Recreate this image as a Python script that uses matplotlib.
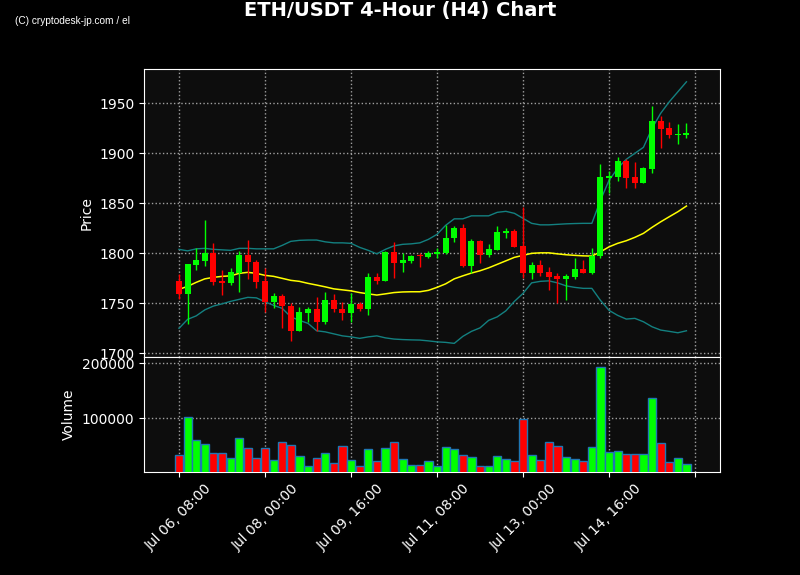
import numpy as np
import matplotlib
matplotlib.use("Agg")
import matplotlib.pyplot as plt

# ---- data ----
opens = [1772.3, 1759.7, 1788.3, 1792.3, 1800.0, 1772.3, 1770.6, 1780.6, 1798.3, 1791.0,
         1772.3, 1751.6, 1757.3, 1747.6, 1722.6, 1740.6, 1744.3, 1731.0, 1753.3, 1744.0,
         1740.0, 1749.3, 1744.6, 1776.0, 1772.6, 1801.0, 1790.6, 1792.3, 1798.0, 1796.6,
         1799.3, 1800.0, 1815.0, 1825.6, 1787.3, 1812.3, 1798.3, 1803.3, 1820.0, 1822.3,
         1807.3, 1780.6, 1788.3, 1781.0, 1777.6, 1774.3, 1776.6, 1784.3, 1780.3, 1797.6,
         1875.3, 1876.6, 1892.3, 1876.0, 1870.0, 1884.3, 1932.3, 1925.0, 1918.0, 1918.6]
highs = [1779.0, 1789.0, 1805.0, 1833.6, 1810.0, 1783.0, 1785.0, 1802.6, 1813.3, 1793.3,
         1785.0, 1760.0, 1759.0, 1750.6, 1746.6, 1746.6, 1756.6, 1761.6, 1759.0, 1751.6,
         1760.0, 1751.6, 1780.0, 1780.0, 1802.3, 1811.6, 1800.0, 1798.3, 1800.0, 1802.6,
         1805.0, 1828.3, 1827.6, 1829.0, 1814.3, 1813.3, 1809.0, 1827.0, 1825.0, 1824.0,
         1846.6, 1791.6, 1793.3, 1786.6, 1780.6, 1779.3, 1795.0, 1793.3, 1805.0, 1889.0,
         1882.3, 1896.6, 1894.0, 1891.6, 1886.6, 1947.3, 1937.3, 1931.0, 1929.0, 1930.0]
lows = [1754.3, 1729.3, 1783.0, 1787.0, 1768.3, 1758.3, 1768.3, 1761.0, 1774.3, 1765.0,
        1741.0, 1745.0, 1725.0, 1712.8, 1722.6, 1731.0, 1722.3, 1729.3, 1741.0, 1733.3,
        1731.6, 1742.3, 1738.3, 1769.0, 1772.6, 1775.0, 1781.0, 1790.0, 1786.6, 1795.0,
        1795.0, 1799.0, 1811.0, 1786.6, 1780.0, 1790.0, 1796.6, 1803.3, 1815.6, 1806.0,
        1775.6, 1774.3, 1777.6, 1763.3, 1750.0, 1753.3, 1774.3, 1780.0, 1779.0, 1795.0,
        1860.6, 1872.3, 1865.0, 1865.0, 1870.0, 1880.0, 1905.0, 1915.0, 1909.0, 1915.0]
closes = [1759.7, 1789.0, 1793.3, 1800.0, 1771.6, 1770.6, 1781.3, 1798.3, 1791.0, 1771.6,
          1751.6, 1757.3, 1747.6, 1722.6, 1741.3, 1744.3, 1731.0, 1753.3, 1744.0, 1740.0,
          1749.3, 1744.6, 1776.0, 1772.3, 1801.0, 1790.6, 1793.0, 1797.3, 1797.0, 1800.0,
          1801.3, 1815.3, 1825.6, 1787.3, 1812.3, 1798.3, 1804.3, 1821.3, 1822.3, 1806.6,
          1780.6, 1788.3, 1780.6, 1776.6, 1774.3, 1777.3, 1784.3, 1780.3, 1797.3, 1876.0,
          1877.3, 1892.3, 1875.6, 1870.0, 1885.0, 1932.3, 1924.3, 1918.0, 1919.3, 1920.0]
volumes = [32700, 101800, 59300, 52700, 36400, 36400, 26500, 63600, 45500, 27200,
           45500, 22900, 56400, 50900, 30900, 12000, 27200, 36400, 17500, 49100,
           22900, 12700, 42900, 21100, 44700, 55600, 24700, 13800, 13800, 21100,
           12700, 47300, 42900, 32700, 29100, 12700, 12700, 30900, 25400, 21800,
           98200, 32700, 23600, 56400, 49100, 29100, 25400, 21800, 47300, 192700,
           38200, 40000, 34500, 34500, 34500, 136400, 54500, 20000, 27200, 16400]
sma = [1764, 1767, 1771, 1774.5, 1776, 1777, 1777.5, 1780, 1781, 1780,
       1778, 1777, 1775, 1773, 1772, 1770, 1768.3, 1766.5, 1764.5, 1763.5,
       1762.5, 1760.8, 1759.5, 1758.3, 1759.5, 1760.8, 1761.4, 1761.6, 1761.6, 1763,
       1766, 1769.5, 1774.5, 1777.5, 1780.3, 1782.6, 1785.5, 1789, 1792.5, 1796,
       1798, 1800, 1800.5, 1800.5, 1799.5, 1798.6, 1798, 1797.5, 1797.3, 1801.5,
       1806.5, 1810, 1812.6, 1816, 1820, 1826, 1831.5, 1836.6, 1841.6, 1847.3]
bb_upper = [1804, 1802.5, 1804.5, 1805, 1804, 1803.5, 1803, 1805, 1805, 1804.5,
            1804.5, 1804.5, 1808, 1812, 1813, 1813.3, 1813.3, 1811.5, 1810.5, 1810.5,
            1810, 1806, 1803, 1799.5, 1804, 1807.5, 1809, 1809.5, 1810.5, 1814,
            1819, 1828, 1834.5, 1834.5, 1837.5, 1837.5, 1837.5, 1841, 1842, 1840,
            1835, 1830, 1828.5, 1828.5, 1829, 1829.5, 1829.8, 1830, 1830, 1853,
            1873, 1885, 1894, 1900, 1906, 1925, 1940, 1951.5, 1961.5, 1971.5]
bb_lower = [1725, 1734, 1737.5, 1743.5, 1747.3, 1749.5, 1752, 1754, 1756, 1755.5,
            1751.5, 1748, 1745, 1736.5, 1733, 1730, 1722.6, 1721.5, 1719.5, 1717.5,
            1716.5, 1715, 1716.5, 1717.5, 1715.5, 1714.3, 1713.8, 1713.5, 1713.3, 1712.5,
            1711.5, 1711, 1710, 1717, 1722, 1725.5, 1733, 1736.5, 1742.5, 1752,
            1760, 1770.5, 1772, 1772.5, 1770.5, 1767.5, 1766, 1765, 1765, 1753,
            1743, 1738, 1734.3, 1735, 1731.6, 1726.6, 1723.3, 1722, 1720.6, 1722.6]
tick_labels = ["Jul 06, 08:00", "Jul 08, 00:00", "Jul 09, 16:00",
               "Jul 11, 08:00", "Jul 13, 00:00", "Jul 14, 16:00", ""]

UP, DOWN = "#00ff00", "#ff0000"
BG = "#0d0d0d"

o, h, l, c = map(np.array, (opens, highs, lows, closes))
x = np.arange(len(o))
colors = [UP if cc >= oo else DOWN for oo, cc in zip(o, c)]

fig = plt.figure(figsize=(8, 5.75), dpi=100, facecolor="black")
ax = fig.add_axes([0.18, 0.379, 0.72, 0.501], facecolor=BG)
axv = fig.add_axes([0.18, 0.179, 0.72, 0.2], facecolor=BG, sharex=ax)

# candles
ax.vlines(x, l, h, colors=colors, linewidth=1, zorder=3)
ax.bar(x, np.abs(c - o), bottom=np.minimum(o, c), width=0.7,
       color=colors, linewidth=0, zorder=4)

# moving average + bollinger bands
ax.plot(x, bb_upper, color="#138080", linewidth=1, zorder=2)
ax.plot(x, bb_lower, color="#138080", linewidth=1, zorder=2)
ax.plot(x, sma, color="#ffff00", linewidth=1.1, zorder=2)

# volume
axv.bar(x, volumes, width=0.95, color=colors, edgecolor="#1f77b4",
        linewidth=1, zorder=3)

ax.set_xlim(-4.07, 62.9)
ax.set_ylim(1696.3, 1984.3)
ax.set_yticks(np.arange(1700, 1951, 50))
axv.set_ylim(1800, 210900)
axv.set_yticks([100000, 200000])
axv.set_xticks(np.arange(0, 61, 10))
axv.set_xticklabels(tick_labels, rotation=45)
plt.setp(ax.get_xticklabels(), visible=False)

ax.set_ylabel("Price", color="white")
axv.set_ylabel("Volume", color="white")

for a in (ax, axv):
    a.grid(True, color="#a0a0a0", linestyle=":", linewidth=1, zorder=0)
    a.set_axisbelow(True)
    for s in a.spines.values():
        s.set_color("white")
    a.tick_params(colors="white", labelsize=10)
ax.tick_params(axis="x", length=0)

fig.text(0.5, 0.981, "ETH/USDT 4-Hour (H4) Chart", color="white",
         fontsize=14, fontweight="bold", ha="center", va="center")
fig.text(0.019, 0.963, "(C) cryptodesk-jp.com / el", color="white",
         fontsize=7.3, family="Liberation Sans", ha="left", va="center")

fig.savefig("out.png", dpi=100, facecolor="black")
